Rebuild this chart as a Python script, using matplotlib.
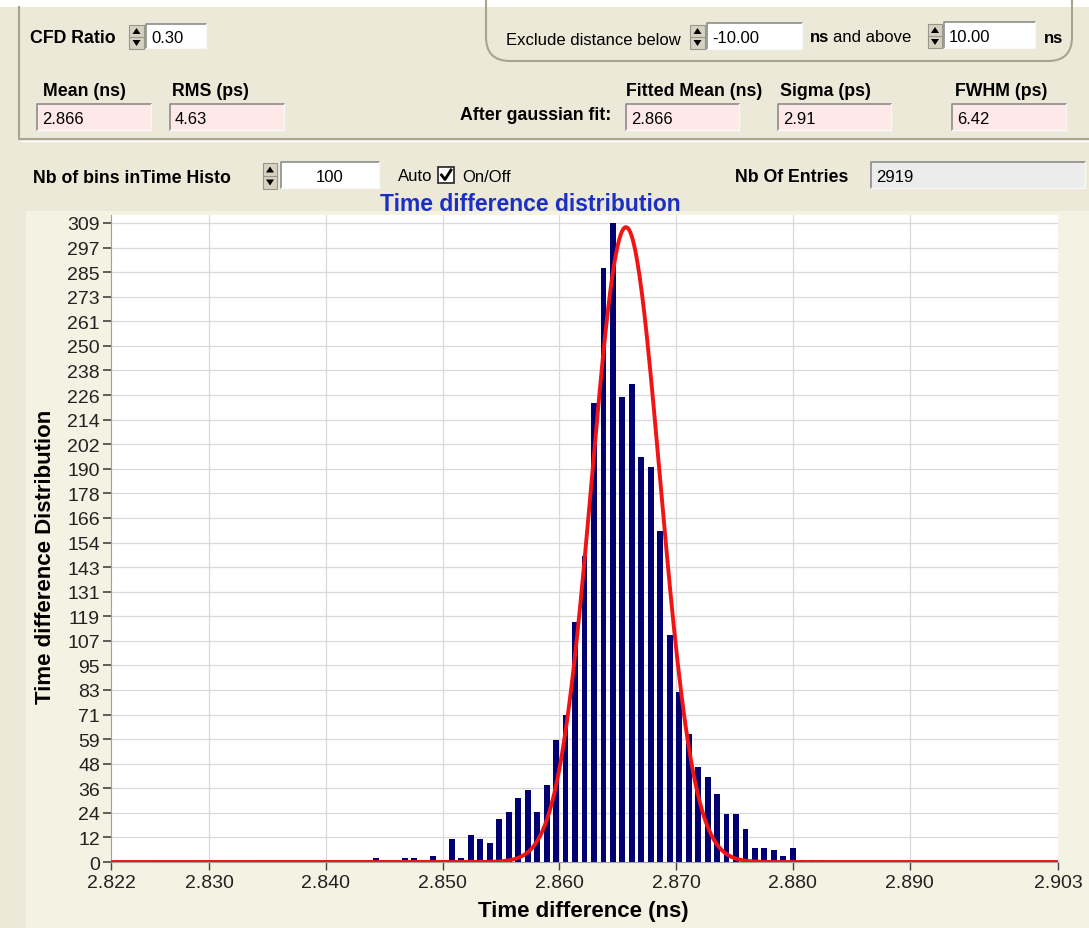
import numpy as np
import matplotlib
matplotlib.use("Agg")
import matplotlib.pyplot as plt
from matplotlib.patches import Rectangle, FancyBboxPatch, Polygon

# ---------------- data ----------------
X_MIN = 2.8216          # axis start (label 2.822)
X_MAX = 2.9027          # axis end (label 2.903)
N_BINS = 100
FIRST_BIN = 25
COUNTS = [1, 1, 0, 2, 1, 0, 2, 2, 1, 3,
          1, 11, 2, 13, 11, 9, 21, 24, 31, 35,
          24, 37, 59, 71, 116, 148, 222, 287, 309, 225,
          231, 196, 191, 160, 110, 82, 62, 46, 41, 33,
          23, 23, 16, 7, 7, 6, 3, 7, 1, 1, 1]
FIT_MEAN = 2.8657       # ns
FIT_SIGMA_PS = 2.91     # ps
FIT_PEAK = 307
Y_MAX_COUNT = 309
Y_TICK_LABELS = ["0", "12", "24", "36", "48", "59", "71", "83", "95", "107",
                 "119", "131", "143", "154", "166", "178", "190", "202", "214",
                 "226", "238", "250", "261", "273", "285", "297", "309"]
X_TICK_VALUES = [2.830, 2.840, 2.850, 2.860, 2.870, 2.880, 2.890]
X_TICK_LABELS = ["2.822", "2.830", "2.840", "2.850", "2.860", "2.870", "2.880", "2.890", "2.903"]

FONT = "Liberation Sans"
W, H = 1089, 929
BG = "#ECE9D8"

fig = plt.figure(figsize=(W / 100, H / 100), dpi=100)
fig.patch.set_facecolor(BG)

# overlay axes in pixel coordinates for the GUI parts
gui = fig.add_axes([0, 0, 1, 1], zorder=0)
gui.set_xlim(0, W)
gui.set_ylim(H, 0)
gui.axis("off")

LBL = 12.8   # bold label size


def txt(x, y, s, bold=False, size=12, color="black", ha="left"):
    gui.text(x, y, s, fontsize=size, fontweight="bold" if bold else "normal",
             color=color, ha=ha, va="center", family=FONT)


def textbox(x0, y0, x1, y1, s, fill="white", ha="left", size=12):
    gui.add_patch(Rectangle((x0, y0), x1 - x0, y1 - y0, facecolor=fill, edgecolor="none"))
    gui.plot([x0, x0, x1], [y1, y0, y0], color="#8C8C8C", lw=1.2)
    gui.plot([x0, x1, x1], [y1, y1, y0], color="#F8F8F8", lw=1.0)
    if ha == "left":
        txt(x0 + 5, (y0 + y1) / 2 + 1, s, size=size)
    else:
        txt((x0 + x1) / 2, (y0 + y1) / 2 + 1, s, size=size, ha="center")


def spin(x0, y0, x1, y1):
    gui.add_patch(Rectangle((x0, y0), x1 - x0, y1 - y0, facecolor="#D6D2C2",
                            edgecolor="#9A978A", lw=0.8))
    cx = (x0 + x1) / 2
    ym = (y0 + y1) / 2
    gui.plot([x0, x1], [ym, ym], color="#9A978A", lw=0.8)
    a = (ym - y0) / 2 + y0
    b = (y1 - ym) / 2 + ym
    gui.add_patch(Polygon([(cx - 4, a + 3), (cx + 4, a + 3), (cx, a - 3)], closed=True,
                          facecolor="black", edgecolor="none"))
    gui.add_patch(Polygon([(cx - 4, b - 3), (cx + 4, b - 3), (cx, b + 3)], closed=True,
                          facecolor="black", edgecolor="none"))


# top white strip and panel border
gui.add_patch(Rectangle((0, 0), W, 8, facecolor="white", edgecolor="none"))
gui.plot([19, 19, W], [8, 140, 140], color="#A8A48E", lw=1.5)
gui.plot([21, W], [142, 142], color="#FFFFFF", lw=1.0)

# rounded "exclude" group box
gui.add_patch(FancyBboxPatch((486, -30), 586, 92, boxstyle="round,pad=0,rounding_size=24",
                             facecolor="none", edgecolor="#A8A48E", lw=1.5))

txt(30, 38, "CFD Ratio", bold=True, size=LBL)
spin(129, 26, 144, 50)
textbox(146, 25, 206, 49, "0.30")

txt(506, 40, "Exclude distance below", size=12)
spin(690, 26, 705, 50)
textbox(707, 24, 802, 50, "-10.00")
txt(810, 37, "ns", bold=True, size=12)
txt(833, 37, "and above", size=12)
spin(928, 25, 942, 49)
textbox(944, 23, 1035, 49, "10.00")
txt(1044, 38, "ns", bold=True, size=12)

txt(43, 91, "Mean (ns)", bold=True, size=LBL)
txt(172, 91, "RMS (ps)", bold=True, size=LBL)
textbox(37, 105, 151, 131, "2.866", fill="#FFE8E8")
textbox(170, 105, 284, 131, "4.63", fill="#FFE8E8")

txt(460, 115, "After gaussian fit:", bold=True, size=LBL)
txt(626, 91, "Fitted Mean (ns)", bold=True, size=LBL)
textbox(626, 105, 739, 131, "2.866", fill="#FFE8E8")
txt(780, 91, "Sigma (ps)", bold=True, size=LBL)
textbox(778, 105, 891, 131, "2.91", fill="#FFE8E8")
txt(955, 91, "FWHM (ps)", bold=True, size=LBL)
textbox(952, 105, 1066, 131, "6.42", fill="#FFE8E8")

txt(33, 178, "Nb of bins inTime Histo", bold=True, size=LBL)
spin(263, 164, 277, 190)
textbox(281, 163, 379, 189, "100", ha="center")
txt(398, 176, "Auto", size=12)
gui.add_patch(Rectangle((438, 168), 16, 16, facecolor="white", edgecolor="#222222", lw=1.2))
gui.plot([441.5, 445, 451], [176, 180.5, 171], color="black", lw=2.0)
txt(462, 177, "On/Off", size=12)
txt(735, 177, "Nb Of Entries", bold=True, size=LBL)
textbox(871, 163, 1085, 189, "2919", fill="#ECECEC")

# chart container
gui.add_patch(Rectangle((26, 212), W - 26, H - 212, facecolor="#F4F2E3", edgecolor="none"))
txt(530, 204, "Time difference distribution", bold=True, size=16.5, color="#1B2FC4", ha="center")

# ---------------- main plot ----------------
AX_L, AX_R, AX_T, AX_B = 111, 1058, 215.5, 863
ax = fig.add_axes([AX_L / W, 1 - AX_B / H, (AX_R - AX_L) / W, (AX_B - AX_T) / H], zorder=1)
ax.set_facecolor("white")

bw = (X_MAX - X_MIN) / N_BINS
idx = np.arange(FIRST_BIN, FIRST_BIN + len(COUNTS))
centers = X_MIN + idx * bw
ax.bar(centers, COUNTS, width=bw * 0.62, color="#000070", zorder=2, linewidth=0)

xs = np.linspace(X_MIN, X_MAX, 800)
sig = FIT_SIGMA_PS / 1000.0
ys = FIT_PEAK * np.exp(-0.5 * ((xs - FIT_MEAN) / sig) ** 2)
ax.plot(xs, ys, color="#F01414", lw=2.8, zorder=3, solid_joinstyle="round")

ax.set_xlim(X_MIN, X_MAX)
ax.set_ylim(0, Y_MAX_COUNT * (AX_B - AX_T) / (863 - 224))

yt = np.linspace(0, Y_MAX_COUNT, len(Y_TICK_LABELS))
ax.set_yticks(yt)
ax.set_yticklabels(Y_TICK_LABELS)
xt = [X_MIN] + X_TICK_VALUES + [X_MAX]
ax.set_xticks(xt)
ax.set_xticklabels(X_TICK_LABELS)

for y in yt[1:]:
    ax.axhline(y, color="#D9D9D9", lw=0.9, zorder=1)
for x in X_TICK_VALUES:
    ax.axvline(x, color="#D9D9D9", lw=0.9, zorder=1)

for s in ["top", "right"]:
    ax.spines[s].set_visible(False)
ax.spines["left"].set_color("#A0A0A0")
ax.spines["bottom"].set_color("#A0A0A0")
ax.tick_params(axis="y", length=6, width=1.2, color="#444444", pad=2, labelsize=14)
ax.tick_params(axis="x", length=6, width=1.0, color="#444444", pad=3, labelsize=14)
for lab in ax.get_xticklabels() + ax.get_yticklabels():
    lab.set_family(FONT)
    lab.set_color("#222222")

txt(583, 912, "Time difference (ns)", bold=True, size=16, ha="center")
gui.text(46, 557, "Time difference Distribution", fontsize=16, fontweight="bold",
         rotation=90, ha="center", va="center", family=FONT)

fig.savefig("out.png", dpi=100, facecolor=fig.get_facecolor())
